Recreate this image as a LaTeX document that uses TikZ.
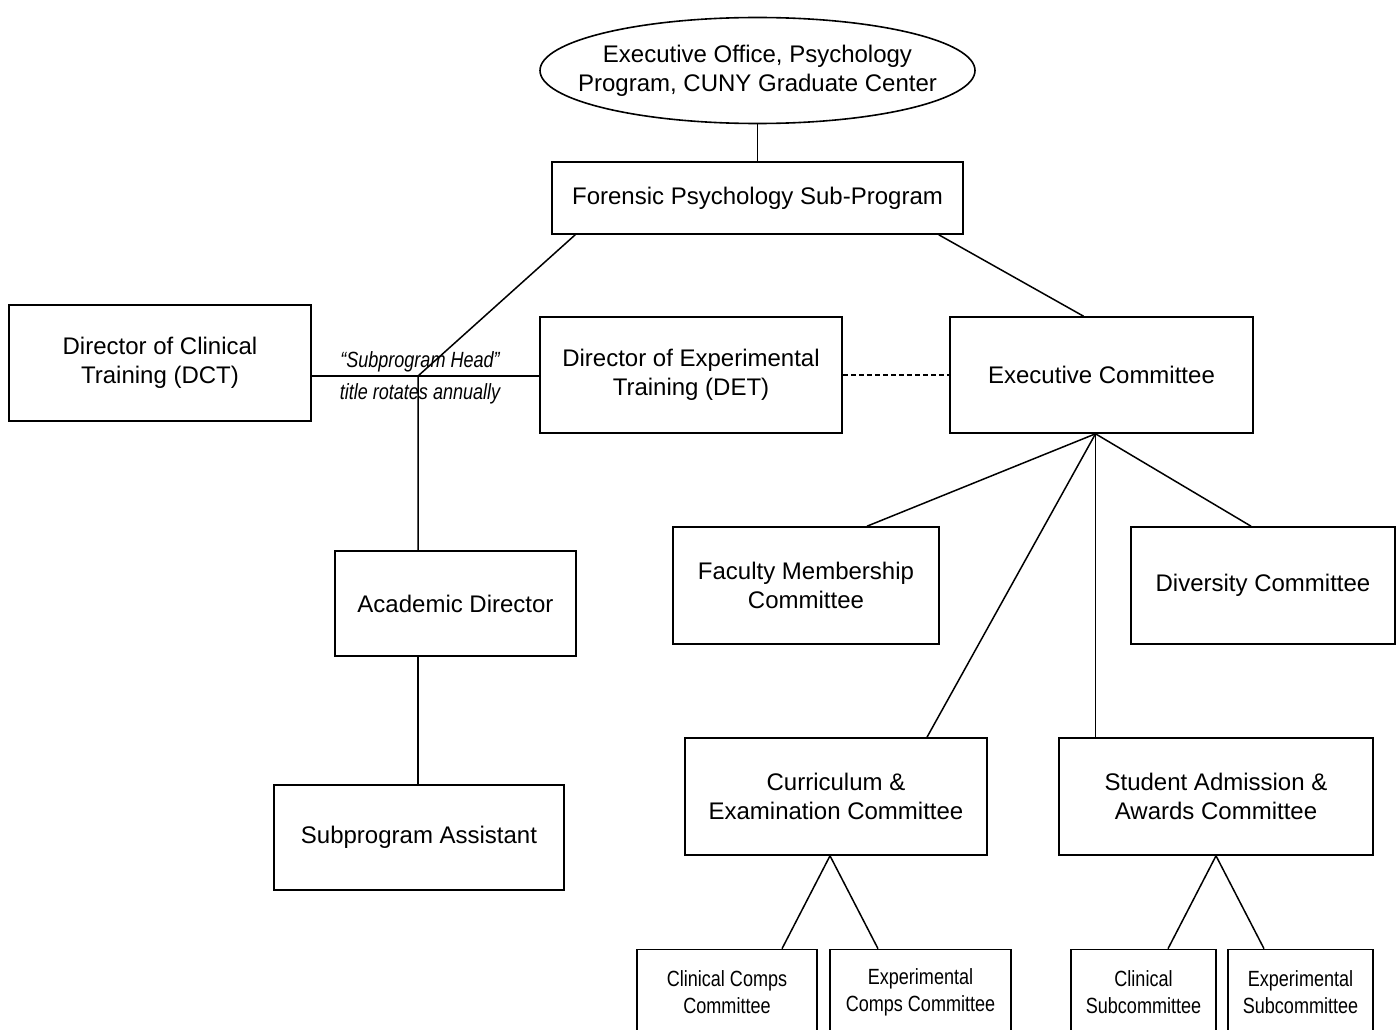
\documentclass[tikz,border=0pt]{standalone}
\usepackage{fontspec}
\setmainfont{Liberation Sans}
\newfontfamily\narrowfont{Liberation Sans}[FakeStretch=0.82]
\usetikzlibrary{shapes.geometric,calc}
\tikzset{
  box/.style={draw, line width=1.6pt, rectangle, align=center, inner sep=0pt,
    font=\fontsize{24}{29}\selectfont},
  smallbox/.style={draw, line width=1.6pt, rectangle, align=center, inner sep=0pt,
    font=\narrowfont\fontsize{22}{27}\selectfont},
  conn/.style={line width=1.5pt},
  lbl/.style={align=center, inner sep=0pt, font=\narrowfont\itshape\fontsize{22}{32}\selectfont}
}
\begin{document}
\begin{tikzpicture}[x=1pt,y=-1pt]
\useasboundingbox (0,0) rectangle (1397,1030);
% nodes
\node[ellipse, draw, line width=1.6pt, minimum width=435, minimum height=106, inner xsep=-60pt, inner ysep=0pt, align=center,
  font=\fontsize{24}{29}\selectfont] (eo) at (757.5,70.5) {Executive Office, Psychology\\Program, CUNY Graduate Center};
\node[box, minimum width=411, minimum height=72] (fsp) at (757.5,198) {Forensic Psychology Sub-Program};
\node[box, minimum width=302, minimum height=116] (dct) at (160,363) {Director of Clinical\\Training (DCT)};
\node[box, minimum width=302, minimum height=116] (det) at (691,375) {Director of Experimental\\Training (DET)};
\node[box, minimum width=303, minimum height=116] (ec) at (1101.5,375) {Executive Committee};
\node[box, minimum width=241, minimum height=105] (ad) at (455.5,603.5) {Academic Director};
\node[box, minimum width=290, minimum height=105] (sa) at (419,837.5) {Subprogram Assistant};
\node[box, minimum width=266, minimum height=117] (fm) at (806,585.5) {Faculty Membership\\Committee};
\node[box, minimum width=264, minimum height=117] (dc) at (1263,585.5) {Diversity Committee};
\node[box, minimum width=302, minimum height=117] (ce) at (836,796.5) {Curriculum \&\\Examination Committee};
\node[box, minimum width=314, minimum height=117] (sad) at (1216,796.5) {Student Admission \&\\Awards Committee};
\node[smallbox, minimum width=180, minimum height=86] (cc) at (727,992.5) {Clinical Comps\\Committee};
\node[smallbox, minimum width=181, minimum height=86] (ecc) at (920.5,992.5) {Experimental\\Comps Committee};
\node[smallbox, minimum width=145, minimum height=86] (cs) at (1143.5,992.5) {Clinical\\Subcommittee};
\node[smallbox, minimum width=145, minimum height=86] (es) at (1300.5,992.5) {Experimental\\Subcommittee};
\node[lbl] (sh) at (420,378) {“Subprogram Head”\\title rotates annually};
% coordinates
\coordinate (j) at (418,376);
\coordinate (e) at ($(ec.south)+(-6,0)$);
\coordinate (cb) at ($(ce.south)+(-6,0)$);
% connectors
\draw[conn] (eo.south) -- (fsp.north);
\draw[conn] ($(fsp.south west)+(24,0)$) -- (j) -- (j |- ad.north);
\draw[conn] (j -| dct.east) -- (j -| det.west);
\draw[conn] (ad.south -| j) -- (sa.north -| j);
\draw[conn] ($(fsp.south east)+(-25,0)$) -- ($(ec.north)+(-18,0)$);
\draw[conn, dash pattern=on 5pt off 3pt] (det.east) -- (ec.west);
\draw[conn] (e) -- ($(fm.north)+(61,0)$);
\draw[conn] (e) -- ($(dc.north)+(-12,0)$);
\draw[conn] (e) -- ($(ce.north)+(91,0)$);
\draw[conn] (e) -- (e |- sad.north);
\draw[conn] (cb) -- ($(cc.north)+(55,0)$);
\draw[conn] (cb) -- ($(ecc.north)+(-42.5,0)$);
\draw[conn] (sad.south) -- ($(cs.north)+(24.5,0)$);
\draw[conn] (sad.south) -- ($(es.north)+(-36.5,0)$);
\end{tikzpicture}
\end{document}
